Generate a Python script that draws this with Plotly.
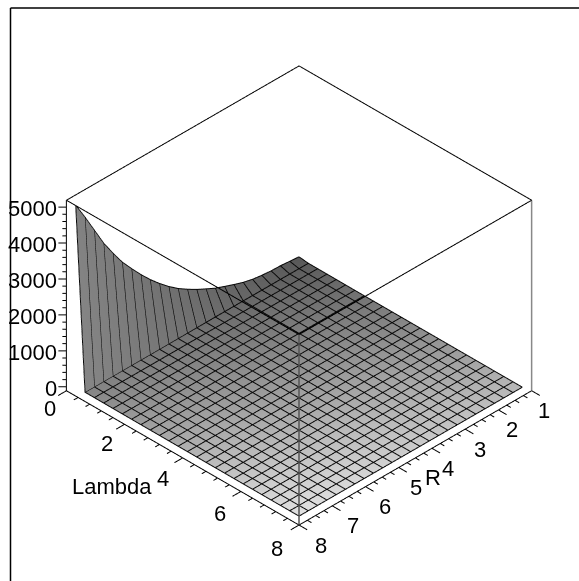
import plotly.graph_objects as go

# ---- data ----
lambda_values = [0.32, 0.64, 0.96, 1.28, 1.6, 1.92, 2.24, 2.56, 2.88, 3.2, 3.52, 3.84, 4.16, 4.48, 4.8, 5.12,
                 5.44, 5.76, 6.08, 6.4, 6.72, 7.04, 7.36, 7.68, 8.0]
r_values = [1.28, 1.56, 1.84, 2.12, 2.4, 2.68, 2.96, 3.24, 3.52, 3.8, 4.08, 4.36, 4.64, 4.92, 5.2, 5.48,
            5.76, 6.04, 6.32, 6.6, 6.88, 7.16, 7.44, 7.72, 8.0]
# z along the first lambda row, in r_values order
z_first_row = [167, 192, 217, 225, 250, 289, 353, 442, 539, 639, 769, 903, 1058, 1228, 1433, 1667,
               1925, 2214, 2528, 2858, 3258, 3683, 4194, 4703, 5186]
# z of the nearly flat floor for the other lambda rows
z_floor = [136, 135, 134, 133, 132, 131, 130, 130, 130, 129, 129, 129, 128, 128, 128, 128,
           127, 127, 127, 127, 126, 126, 126, 126]
z_ticks = [0, 1000, 2000, 3000, 4000, 5000]
lambda_ticks = [0, 2, 4, 6, 8]
r_ticks = [1, 2, 3, 4, 5, 6, 7, 8]

# ---- box and style ----
Z_LO, Z_HI = -110, 5190
R_LO, R_HI = 1, 8
L_LO, L_HI = 0, 8
FONT = "Liberation Sans, Arial, sans-serif"
FS = 22
ZOOM = 1.381 / 400
GRID_LIFT = 12

z_table = [z_first_row] + [[v] * len(r_values) for v in z_floor]


def shade(lam, r):
    fl = (lam - 0.64) / 7.36
    fr = (r - 1.28) / 6.72
    return 0x5c + 0x2a * fr + 0x5c * fl


gray_table = [[shade(l, r) for r in r_values] for l in lambda_values]

fig = go.Figure()
fig.add_trace(go.Surface(
    x=r_values, y=lambda_values, z=z_table,
    surfacecolor=gray_table, cmin=0, cmax=255,
    colorscale=[[0, "black"], [1, "white"]], showscale=False, hoverinfo="skip",
    lighting=dict(ambient=1, diffuse=0, specular=0, roughness=1, fresnel=0),
))

# mesh lines of the surface, from the same table
gx, gy, gz = [], [], []
for j, lam in enumerate(lambda_values):
    gx += r_values + [None]
    gy += [lam] * len(r_values) + [None]
    gz += [v + GRID_LIFT for v in z_table[j]] + [None]
for i, r in enumerate(r_values):
    gx += [r] * len(lambda_values) + [None]
    gy += lambda_values + [None]
    gz += [row[i] + GRID_LIFT for row in z_table] + [None]
fig.add_trace(go.Scatter3d(x=gx, y=gy, z=gz, mode="lines", hoverinfo="skip", showlegend=False,
                           line=dict(color="#0a0a0a", width=2)))


def lines(segments, color="black", width=2):
    xs, ys, zs = [], [], []
    for a, b in segments:
        xs += [a[0], b[0], None]
        ys += [a[1], b[1], None]
        zs += [a[2], b[2], None]
    fig.add_trace(go.Scatter3d(x=xs, y=ys, z=zs, mode="lines", hoverinfo="skip", showlegend=False,
                               line=dict(color=color, width=width)))


left_top = (R_HI, L_LO, Z_HI)
back_top = (R_LO, L_LO, Z_HI)
right_top = (R_LO, L_HI, Z_HI)
front_top = (R_HI, L_HI, Z_HI)
left_bot = (R_HI, L_LO, Z_LO)
right_bot = (R_LO, L_HI, Z_LO)
front_bot = (R_HI, L_HI, Z_LO)
lines([(left_top, back_top), (back_top, right_top), (left_top, front_top), (right_top, front_top),
       (left_top, left_bot), (left_bot, front_bot), (front_bot, right_bot)], "black", 2)
lines([(front_top, front_bot)], "#555", 3)
lines([(right_top, right_bot)], "#888", 3)

ticks = []
for i in range(0, 26):
    v = i * 200
    d = 1.0 if v % 1000 == 0 else 0.5
    ticks.append(((R_HI, L_LO, v), (R_HI + 0.12 * d, L_LO - 0.138 * d, v)))
for i in range(0, 21):
    v = i * 0.4
    d = 1.0 if i % 5 == 0 else 0.5
    ticks.append(((R_HI, v, Z_LO), (R_HI + 0.25 * d, v, Z_LO)))
for i in range(0, 29):
    v = 1 + i * 0.25
    d = 1.0 if i % 4 == 0 else 0.5
    ticks.append(((v, L_HI, Z_LO), (v, L_HI + 0.28 * d, Z_LO)))
lines(ticks, "black", 2)

annos = []


def label(r, lam, z, text, anchor="center"):
    annos.append(dict(x=r, y=lam, z=z, text=text, showarrow=False, xanchor=anchor, yanchor="middle",
                      font=dict(family=FONT, size=FS, color="black")))


for v in z_ticks:
    label(R_HI + 0.12, L_LO - 0.13, v - 50, str(v), "right")
for v in lambda_ticks:
    label(R_HI + 0.50 + 0.02 * v, v, -340 - 8 * v, str(v))
for v in r_ticks:
    label(v, L_HI + 0.414 + 0.049 * (v - 1), -110 - (20 - (0.414 + 0.049 * (v - 1)) * 16.75) / 0.036, str(v))
label(9.705, 3.5, -216, "Lambda")
label(4.83, 9.0, 1, "R")

fig.update_layout(
    width=579, height=581, margin=dict(l=0, r=0, t=0, b=0),
    paper_bgcolor="white", showlegend=False,
    shapes=[
        dict(type="line", xref="paper", yref="paper", x0=10.5 / 579, x1=1, y0=1 - 8 / 581, y1=1 - 8 / 581,
             line=dict(color="black", width=1.5)),
        dict(type="line", xref="paper", yref="paper", x0=10.5 / 579, x1=10.5 / 579, y0=0, y1=1 - 8 / 581,
             line=dict(color="black", width=1.5)),
    ],
    scene=dict(
        domain=dict(x=[0, 1], y=[0, 1]),
        xaxis=dict(visible=False, range=[0.5, 10.5]),
        yaxis=dict(visible=False, range=[-0.5, 10.13]),
        zaxis=dict(visible=False, range=[-700, 7886]),
        aspectmode="manual",
        aspectratio=dict(x=468.6 * ZOOM, y=435.8 * ZOOM, z=376.9 * ZOOM),
        camera=dict(eye=dict(x=1, y=1, z=1), up=dict(x=0, y=0, z=1), center=dict(x=0, y=0, z=0),
                    projection=dict(type="orthographic")),
        annotations=annos,
        bgcolor="white",
    ),
)
fig.write_html("out.html", config=dict(displayModeBar=False), post_script="document.body.style.margin='0';")
